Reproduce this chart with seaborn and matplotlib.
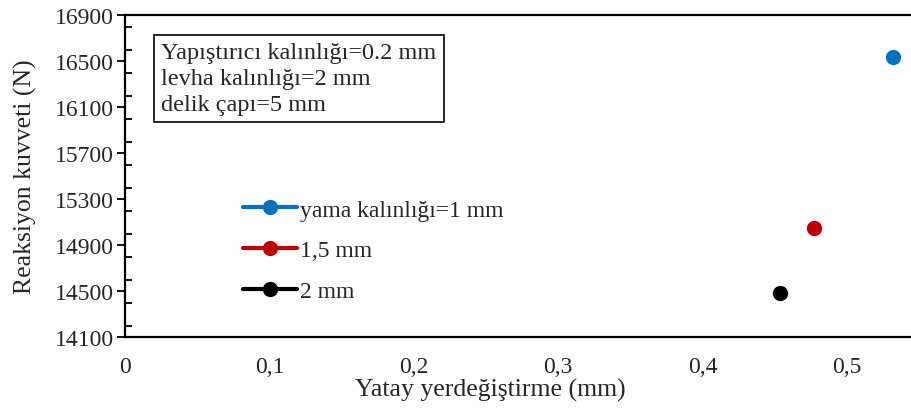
import matplotlib
matplotlib.use("Agg")
import matplotlib.pyplot as plt
import seaborn as sns
import pandas as pd
from matplotlib.ticker import MultipleLocator

series = ["yama kalınlığı=1 mm", "1,5 mm", "2 mm"]
x_disp = [0.532, 0.477, 0.4535]
y_force = [16535, 15052, 14480]
colors = ["#0070C0", "#C00000", "#000000"]
x_ticks = [0, 0.1, 0.2, 0.3, 0.4, 0.5]
x_ticklabels = ["0", "0,1", "0,2", "0,3", "0,4", "0,5"]
y_ticks = [14100, 14500, 14900, 15300, 15700, 16100, 16500, 16900]
info_text = "Yapıştırıcı kalınlığı=0.2 mm\nlevha kalınlığı=2 mm\ndelik çapı=5 mm"

df = pd.DataFrame({"x": x_disp, "y": y_force, "seri": series})

sns.set_theme(style="white")
plt.rcParams["font.family"] = ["Liberation Serif", "DejaVu Serif"]

fig = plt.figure(figsize=(9.12, 4.10), dpi=100)
ax = fig.add_axes([125/912, 1-338/410, 1-125/912, (338-16)/410])

sns.lineplot(data=df, x="x", y="y", hue="seri", hue_order=series,
             palette=dict(zip(series, colors)), marker="o", markersize=11,
             markeredgewidth=0, linewidth=2.2, ax=ax, legend=True)

ax.set_xlim(0, 0.545)
ax.set_ylim(14100, 16900)
ax.set_xticks(x_ticks)
ax.set_xticklabels(x_ticklabels)
ax.set_yticks(y_ticks)
ax.set_yticklabels([str(v) for v in y_ticks])
ax.yaxis.set_minor_locator(MultipleLocator(200))

for s in ["left", "bottom", "top"]:
    ax.spines[s].set_color("black")
    ax.spines[s].set_linewidth(1.6)
ax.spines["right"].set_visible(False)

ax.tick_params(axis="y", which="major", direction="out", length=6, width=1.3,
               color="black", labelsize=17, left=True, pad=2)
ax.tick_params(axis="y", which="minor", direction="in", length=5, width=1.3,
               color="black", left=True)
ax.tick_params(axis="x", which="both", length=0, labelsize=17, pad=14)

ax.set_xlabel("Yatay yerdeğiştirme (mm)", fontsize=18.5)
ax.set_ylabel("Reaksiyon kuvveti (N)", fontsize=18.5)
ax.xaxis.set_label_coords((490-125)/787, -0.128)
ax.yaxis.set_label_coords(-0.112, 0.5)

ax.text(161/912, 1-43/410, info_text, transform=fig.transFigure,
        ha="left", va="top", fontsize=17.5, linespacing=1.3,
        bbox=dict(boxstyle="square,pad=0.3", fc="white", ec="black", lw=1.2))

leg = ax.legend(loc="upper left", bbox_to_anchor=(243/912, 1-200/410),
                bbox_transform=fig.transFigure, frameon=False, fontsize=17,
                handlelength=2.3, handletextpad=0.1, labelspacing=0.82,
                borderpad=0, borderaxespad=0, title=None)
for h in leg.legend_handles:
    h.set_linewidth(3)
    h.set_markersize(11)

fig.savefig("out.png", dpi=100)
